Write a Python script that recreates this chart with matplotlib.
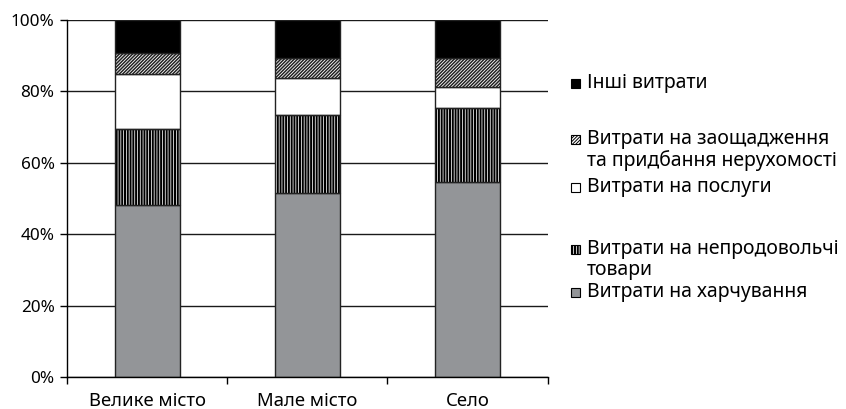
import matplotlib
matplotlib.use("Agg")
import matplotlib.pyplot as plt
from matplotlib.patches import Rectangle
import numpy as np

plt.rcParams['font.family'] = ['Noto Sans', 'DejaVu Sans']

categories = ["Велике місто", "Мале місто", "Село"]
food = [48.2, 51.5, 54.5]
nonfood = [21.2, 21.8, 20.8]
services = [15.5, 10.5, 6.0]
savings = [5.9, 5.6, 8.0]
others = [9.2, 10.6, 10.7]

labels = ["Інші витрати",
          "Витрати на заощадження\nта придбання нерухомості",
          "Витрати на послуги",
          "Витрати на непродовольчі\nтовари",
          "Витрати на харчування"]
yticklabels = ["0%", "20%", "40%", "60%", "80%", "100%"]

W, H = 846, 409
fig = plt.figure(figsize=(W / 100, H / 100), dpi=100)
ax = fig.add_axes([67 / W, 1 - 377 / H, (547.5 - 67) / W, (377 - 20) / H])

x = np.arange(len(categories))
bw = 0.405
edge = '#222222'
lw = 1.0

food_a = np.array(food)
non_a = np.array(nonfood)
ser_a = np.array(services)
sav_a = np.array(savings)
oth_a = np.array(others)

b1 = np.zeros(3)
ax.bar(x, food_a, bw, bottom=b1, color='#939598', edgecolor=edge, linewidth=lw, zorder=3)
b2 = b1 + food_a
with plt.rc_context({'hatch.linewidth': 0.55}):
    ax.bar(x, non_a, bw, bottom=b2, facecolor='black', edgecolor='white', hatch='||||||', linewidth=0, zorder=3)
ax.bar(x, non_a, bw, bottom=b2, fill=False, edgecolor=edge, linewidth=lw, zorder=4)
b3 = b2 + non_a
ax.bar(x, ser_a, bw, bottom=b3, color='white', edgecolor=edge, linewidth=lw, zorder=3)
b4 = b3 + ser_a
with plt.rc_context({'hatch.linewidth': 1.1}):
    ax.bar(x, sav_a, bw, bottom=b4, facecolor='white', edgecolor=edge, hatch='//////////', linewidth=lw, zorder=3)
b5 = b4 + sav_a
ax.bar(x, oth_a, bw, bottom=b5, color='black', edgecolor=edge, linewidth=lw, zorder=3)

ax.set_xlim(-0.5, 2.5)
ax.set_ylim(0, 100)
ax.set_yticks(np.arange(0, 101, 20))
ax.set_yticklabels(yticklabels, fontsize=12.3)
ax.set_xticks(x)
ax.set_xticklabels(categories, fontsize=13.3)
ax.set_xticks([-0.5, 0.5, 1.5, 2.5], minor=True)
ax.tick_params(axis='x', which='major', length=0, pad=11)
ax.tick_params(axis='x', which='minor', length=5, width=1, direction='out', color='black')
ax.tick_params(axis='y', length=5, width=1, direction='out', pad=4, color='black')
ax.yaxis.grid(True, color='#1a1a1a', linewidth=1.0, zorder=0)
ax.set_axisbelow(True)
for s in ['top', 'right']:
    ax.spines[s].set_visible(False)
ax.spines['left'].set_linewidth(1.0)
ax.spines['bottom'].set_linewidth(1.0)
ax.spines['left'].set_zorder(5)
ax.spines['bottom'].set_zorder(5)

# legend (manual, irregular spacing as in reference)
faces = ['black', 'white', 'white', 'black', '#939598']
hatches = [None, '//////////', None, '||||||', None]
hedges = ['black', 'black', 'black', 'white', 'black']
baselines = [88.3, 144, 191.7, 254.3, 296.7]
sq_x, sq_s, tx = 571, 9, 587
fig.canvas.draw()
rend = fig.canvas.get_renderer()
for lab, fc, ht, hc, bl in zip(labels, faces, hatches, hedges, baselines):
    with plt.rc_context({'hatch.linewidth': 0.55 if hc == 'white' else 0.7}):
        r = Rectangle((sq_x / W, 1 - bl / H), sq_s / W, sq_s / H, transform=fig.transFigure,
                      facecolor=fc, edgecolor=hc if ht else 'black', hatch=ht,
                      linewidth=0 if hc == 'white' else 0.8)
    fig.patches.append(r)
    if hc == 'white':
        fig.patches.append(Rectangle((sq_x / W, 1 - bl / H), sq_s / W, sq_s / H, transform=fig.transFigure,
                                     fill=False, edgecolor='black', linewidth=0.8))
    t = fig.text(tx / W, 1 - bl / H, lab, fontsize=14, va='baseline', ha='left', linespacing=1.05,
                 multialignment='left')
    if '\n' in lab:
        # anchor so that the first line's baseline sits at bl
        single = fig.text(0, 0.5, lab.split('\n')[0], fontsize=14, va='baseline')
        above = single.get_window_extent(rend).y1 - 0.5 * H
        single.remove()
        t.set_va('top')
        t.set_y(1 - (bl - above) / H)

fig.savefig('out.png', dpi=100)
